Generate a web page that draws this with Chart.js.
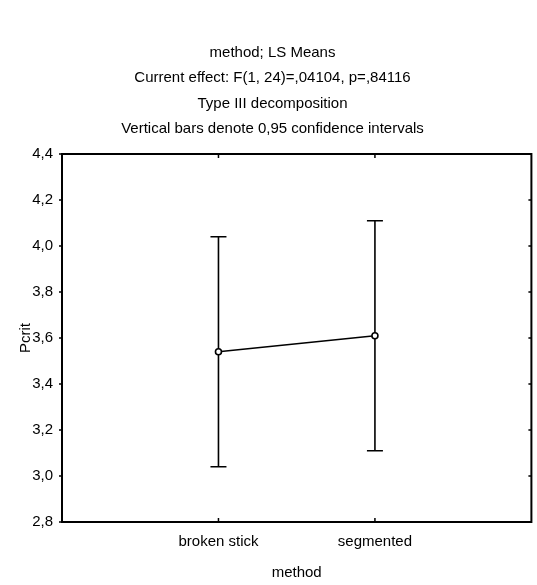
<!DOCTYPE html>
<html>
<head>
<meta charset="utf-8">
<script src="https://cdn.jsdelivr.net/npm/chart.js@4"></script>
<style>
  html, body { margin: 0; padding: 0; background: #ffffff; }
  #wrap { width: 537px; height: 585px; position: relative; }
</style>
</head>
<body>
<div id="wrap"><canvas id="c" width="537" height="585"></canvas></div>
<script>
// LS means of Pcrit by method, with 0.95 confidence limits
const categories = ['broken stick', 'segmented'];
const means = [3.54, 3.61];
const ciLow = [3.04, 3.11];
const ciHigh = [4.04, 4.11];
const yTicks = [2.8, 3.0, 3.2, 3.4, 3.6, 3.8, 4.0, 4.2, 4.4];
const titleLines = [
  'method; LS Means',
  'Current effect: F(1, 24)=,04104, p=,84116',
  'Type III decomposition',
  'Vertical bars denote 0,95 confidence intervals'
];

const FONT = '"Liberation Sans", Arial, Helvetica, sans-serif';
const FONT_SIZE = 15;
const TITLE_X = 272.5;   // centre of the heading block
const TITLE_Y0 = 52.5;   // first heading line
const TITLE_STEP = 25.5; // heading line spacing

const points = means.map((m, i) => ({ x: i + 1, y: m }));

// Title block, frame, tick marks and confidence-interval whiskers
const decorations = {
  id: 'decorations',
  beforeDatasetsDraw(chart) {
    const { ctx, scales: { x, y } } = chart;
    ctx.save();
    ctx.strokeStyle = '#000';
    ctx.lineWidth = 1.6;
    means.forEach((m, i) => {
      const px = x.getPixelForValue(i + 1);
      const yl = y.getPixelForValue(ciLow[i]);
      const yh = y.getPixelForValue(ciHigh[i]);
      ctx.beginPath();
      ctx.moveTo(px, yh); ctx.lineTo(px, yl);
      ctx.moveTo(px - 8, yh); ctx.lineTo(px + 8, yh);
      ctx.moveTo(px - 8, yl); ctx.lineTo(px + 8, yl);
      ctx.stroke();
    });
    ctx.restore();
  },
  afterDraw(chart) {
    const { ctx, chartArea: a, scales: { x, y } } = chart;
    ctx.save();
    ctx.fillStyle = '#000';
    ctx.font = FONT_SIZE + 'px ' + FONT;
    ctx.textAlign = 'center';
    ctx.textBaseline = 'middle';
    titleLines.forEach((t, i) => ctx.fillText(t, TITLE_X, TITLE_Y0 + i * TITLE_STEP));

    ctx.strokeStyle = '#000';
    ctx.lineWidth = 1.5;
    ctx.beginPath();
    yTicks.forEach(v => {
      const py = y.getPixelForValue(v);
      ctx.moveTo(a.left - 3, py); ctx.lineTo(a.left, py);
      ctx.moveTo(a.right, py); ctx.lineTo(a.right - 3, py);
    });
    categories.forEach((c, i) => {
      const px = x.getPixelForValue(i + 1);
      ctx.moveTo(px, a.top); ctx.lineTo(px, a.top + 4);
      ctx.moveTo(px, a.bottom); ctx.lineTo(px, a.bottom - 4);
    });
    ctx.stroke();

    ctx.lineWidth = 2;
    ctx.strokeRect(a.left, a.top, a.right - a.left, a.bottom - a.top);
    ctx.restore();
  }
};

new Chart(document.getElementById('c'), {
  type: 'line',
  data: {
    datasets: [{
      data: points,
      borderColor: '#000',
      borderWidth: 1.6,
      pointRadius: 3,
      pointBorderWidth: 1.6,
      pointBackgroundColor: '#fff',
      pointBorderColor: '#000',
      tension: 0
    }]
  },
  plugins: [decorations],
  options: {
    responsive: false,
    animation: false,
    devicePixelRatio: 1,
    layout: { padding: { top: 154, right: 4, left: 0, bottom: 0 } },
    plugins: { legend: { display: false }, tooltip: { enabled: false } },
    scales: {
      x: {
        type: 'linear',
        min: 0,
        max: categories.length + 1,
        grid: { display: false, drawTicks: false },
        border: { display: false },
        afterBuildTicks(s) {
          s.ticks = categories.map((c, i) => ({ value: i + 1 }));
        },
        ticks: {
          color: '#000',
          font: { family: FONT, size: FONT_SIZE },
          padding: 11,
          maxRotation: 0,
          autoSkip: false,
          callback: v => categories[v - 1] || ''
        },
        title: {
          display: true,
          text: 'method',
          color: '#000',
          font: { family: FONT, size: FONT_SIZE },
          padding: { top: 10, bottom: 3 }
        },
        afterFit(s) { s.height = 63; }
      },
      y: {
        min: 2.8,
        max: 4.4,
        grid: { display: false, drawTicks: false },
        border: { display: false },
        afterBuildTicks(s) {
          s.ticks = yTicks.map(v => ({ value: v }));
        },
        ticks: {
          color: '#000',
          font: { family: FONT, size: FONT_SIZE },
          padding: 9,
          callback: v => v.toFixed(1).replace('.', ',')
        },
        title: {
          display: true,
          text: 'Pcrit',
          color: '#000',
          font: { family: FONT, size: FONT_SIZE },
          padding: { top: 17, bottom: 0 }
        },
        afterFit(s) { s.width = 62; }
      }
    }
  }
});
</script>
</body>
</html>
